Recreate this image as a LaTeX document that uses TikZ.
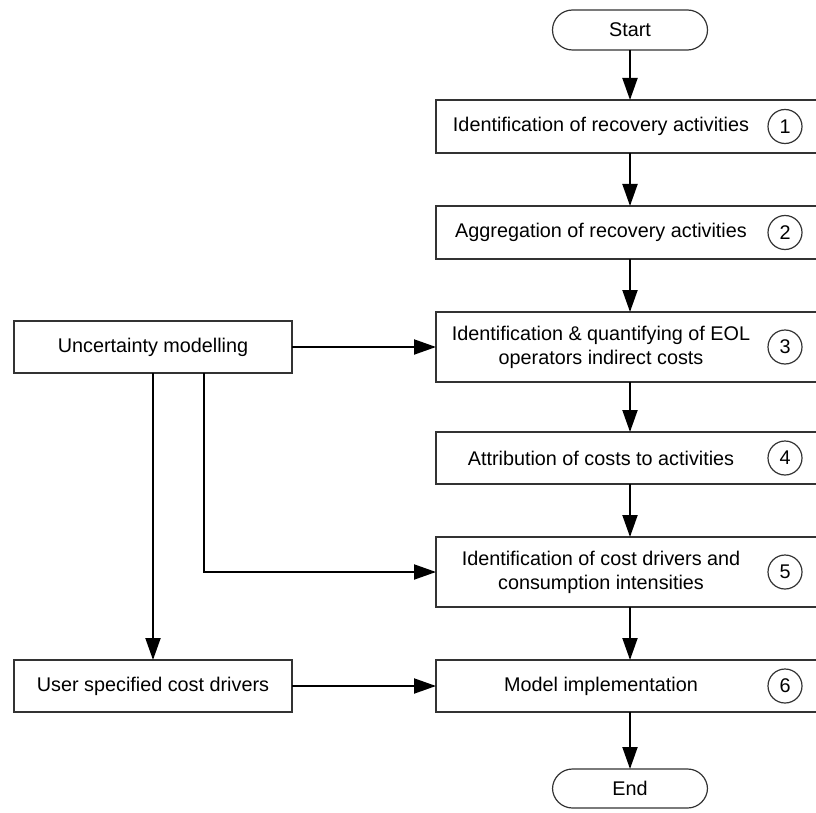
\documentclass[tikz,border=0pt]{standalone}
\usepackage{fontspec}
\setmainfont{Liberation Sans}
\usepackage{tikz}
\usetikzlibrary{arrows.meta, positioning}
\tikzstyle{arrow} = [line width=2pt,-{Triangle[length=22pt,width=15pt]}]
\tikzstyle{stepbox} = [rectangle, draw=black!80, line width=1.2pt, outer sep=0pt, minimum height=53pt, inner xsep=0pt]
\tikzstyle{sidebox} = [rectangle, draw=black!80, line width=1.2pt, outer sep=0pt, minimum width=278pt, minimum height=52pt]
\tikzstyle{terminal} = [rectangle, draw=black!80, line width=1.2pt, outer sep=0pt, rounded corners=20pt, minimum width=155pt, minimum height=40pt]
\tikzstyle{numcircle} = [circle, draw=black!80, line width=1.2pt, minimum size=34pt, inner sep=0pt]
\tikzset{every node/.style={align=center}}
\newcommand{\steptext}[1]{\makebox[388pt][l]{\parbox{330pt}{\centering #1}}}

\begin{document}
\begin{tikzpicture}[x=1pt, y=-1pt, node distance=53pt, font=\fontsize{19.8}{24}\selectfont]
    \useasboundingbox (0,0) rectangle (816,813);
    \clip (0,0) rectangle (816,813);

    \node (start) [terminal] at (630,30) {Start};
    \node (s1) [stepbox, below=50pt of start] {\steptext{Identification of recovery activities}};
    \node (s2) [stepbox, below=of s1] {\steptext{Aggregation of recovery activities}};
    \node (s3) [stepbox, below=of s2, minimum height=70pt] {\steptext{Identification \& quantifying of EOL\\operators indirect costs}};
    \node (s4) [stepbox, below=50pt of s3, minimum height=52pt] {\steptext{Attribution of costs to activities}};
    \node (s5) [stepbox, below=of s4, minimum height=70pt] {\steptext{Identification of cost drivers and\\consumption intensities}};
    \node (s6) [stepbox, below=of s5, minimum height=52pt] {\steptext{Model implementation}};
    \node (end) [terminal, below=57pt of s6, minimum height=39pt] {End};

    % step numbers
    \node (n1) [numcircle] at ([xshift=349pt]s1.west) {1};
    \node (n2) [numcircle] at ([xshift=349pt]s2.west) {2};
    \node (n3) [numcircle] at ([xshift=349pt]s3.west) {3};
    \node (n4) [numcircle] at ([xshift=349pt]s4.west) {4};
    \node (n5) [numcircle] at ([xshift=349pt]s5.west) {5};
    \node (n6) [numcircle] at ([xshift=349pt]s6.west) {6};

    \node (um) [sidebox] at (153,347) {Uncertainty modelling};
    \node (us) [sidebox] at (um |- s6) {User specified cost drivers};

    \draw [arrow] (start) -- (s1);
    \draw [arrow] (s1) -- (s2);
    \draw [arrow] (s2) -- (s3);
    \draw [arrow] (s3) -- (s4);
    \draw [arrow] (s4) -- (s5);
    \draw [arrow] (s5) -- (s6);
    \draw [arrow] (s6) -- (end);
    \draw [arrow] (um) -- (um -| s3.west);
    \draw [arrow] (um) -- (us);
    \draw [arrow] ([xshift=51pt]um.south) |- (s5.west);
    \draw [arrow] (us) -- (s6);
\end{tikzpicture}
\end{document}
